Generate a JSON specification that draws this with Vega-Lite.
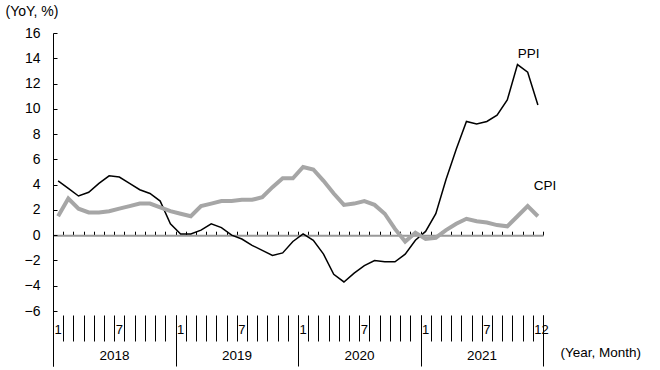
{
  "$schema": "https://vega.github.io/schema/vega-lite/v6.json",
  "width": 490,
  "height": 333,
  "autosize": {"type": "none"},
  "padding": {"left": 53, "top": 33, "right": 117, "bottom": 4},
  "config": {
    "view": {"stroke": null},
    "font": "Liberation Sans",
    "axis": {"grid": false, "labelFont": "Liberation Sans", "titleFont": "Liberation Sans", "labelColor": "black", "titleColor": "black", "titleFontWeight": "normal"}
  },
  "datasets": {
    "series": [
      {"i": 0, "year": 2018, "month": 1, "PPI": 4.3, "CPI": 1.5},
      {"i": 1, "year": 2018, "month": 2, "PPI": 3.7, "CPI": 2.9},
      {"i": 2, "year": 2018, "month": 3, "PPI": 3.1, "CPI": 2.1},
      {"i": 3, "year": 2018, "month": 4, "PPI": 3.4, "CPI": 1.8},
      {"i": 4, "year": 2018, "month": 5, "PPI": 4.1, "CPI": 1.8},
      {"i": 5, "year": 2018, "month": 6, "PPI": 4.7, "CPI": 1.9},
      {"i": 6, "year": 2018, "month": 7, "PPI": 4.6, "CPI": 2.1},
      {"i": 7, "year": 2018, "month": 8, "PPI": 4.1, "CPI": 2.3},
      {"i": 8, "year": 2018, "month": 9, "PPI": 3.6, "CPI": 2.5},
      {"i": 9, "year": 2018, "month": 10, "PPI": 3.3, "CPI": 2.5},
      {"i": 10, "year": 2018, "month": 11, "PPI": 2.7, "CPI": 2.2},
      {"i": 11, "year": 2018, "month": 12, "PPI": 0.9, "CPI": 1.9},
      {"i": 12, "year": 2019, "month": 1, "PPI": 0.1, "CPI": 1.7},
      {"i": 13, "year": 2019, "month": 2, "PPI": 0.1, "CPI": 1.5},
      {"i": 14, "year": 2019, "month": 3, "PPI": 0.4, "CPI": 2.3},
      {"i": 15, "year": 2019, "month": 4, "PPI": 0.9, "CPI": 2.5},
      {"i": 16, "year": 2019, "month": 5, "PPI": 0.6, "CPI": 2.7},
      {"i": 17, "year": 2019, "month": 6, "PPI": 0.0, "CPI": 2.7},
      {"i": 18, "year": 2019, "month": 7, "PPI": -0.3, "CPI": 2.8},
      {"i": 19, "year": 2019, "month": 8, "PPI": -0.8, "CPI": 2.8},
      {"i": 20, "year": 2019, "month": 9, "PPI": -1.2, "CPI": 3.0},
      {"i": 21, "year": 2019, "month": 10, "PPI": -1.6, "CPI": 3.8},
      {"i": 22, "year": 2019, "month": 11, "PPI": -1.4, "CPI": 4.5},
      {"i": 23, "year": 2019, "month": 12, "PPI": -0.5, "CPI": 4.5},
      {"i": 24, "year": 2020, "month": 1, "PPI": 0.1, "CPI": 5.4},
      {"i": 25, "year": 2020, "month": 2, "PPI": -0.4, "CPI": 5.2},
      {"i": 26, "year": 2020, "month": 3, "PPI": -1.5, "CPI": 4.3},
      {"i": 27, "year": 2020, "month": 4, "PPI": -3.1, "CPI": 3.3},
      {"i": 28, "year": 2020, "month": 5, "PPI": -3.7, "CPI": 2.4},
      {"i": 29, "year": 2020, "month": 6, "PPI": -3.0, "CPI": 2.5},
      {"i": 30, "year": 2020, "month": 7, "PPI": -2.4, "CPI": 2.7},
      {"i": 31, "year": 2020, "month": 8, "PPI": -2.0, "CPI": 2.4},
      {"i": 32, "year": 2020, "month": 9, "PPI": -2.1, "CPI": 1.7},
      {"i": 33, "year": 2020, "month": 10, "PPI": -2.1, "CPI": 0.5},
      {"i": 34, "year": 2020, "month": 11, "PPI": -1.5, "CPI": -0.5},
      {"i": 35, "year": 2020, "month": 12, "PPI": -0.4, "CPI": 0.2},
      {"i": 36, "year": 2021, "month": 1, "PPI": 0.3, "CPI": -0.3},
      {"i": 37, "year": 2021, "month": 2, "PPI": 1.7, "CPI": -0.2},
      {"i": 38, "year": 2021, "month": 3, "PPI": 4.4, "CPI": 0.4},
      {"i": 39, "year": 2021, "month": 4, "PPI": 6.8, "CPI": 0.9},
      {"i": 40, "year": 2021, "month": 5, "PPI": 9.0, "CPI": 1.3},
      {"i": 41, "year": 2021, "month": 6, "PPI": 8.8, "CPI": 1.1},
      {"i": 42, "year": 2021, "month": 7, "PPI": 9.0, "CPI": 1.0},
      {"i": 43, "year": 2021, "month": 8, "PPI": 9.5, "CPI": 0.8},
      {"i": 44, "year": 2021, "month": 9, "PPI": 10.7, "CPI": 0.7},
      {"i": 45, "year": 2021, "month": 10, "PPI": 13.5, "CPI": 1.5},
      {"i": 46, "year": 2021, "month": 11, "PPI": 12.9, "CPI": 2.3},
      {"i": 47, "year": 2021, "month": 12, "PPI": 10.3, "CPI": 1.5}
    ],
    "labels": [
      {"label": "PPI", "i": 46.1, "v": 14.3},
      {"label": "CPI", "i": 47.7, "v": 3.9}
    ]
  },
  "layer": [
    {
      "data": {"name": "series"},
      "mark": {"type": "line", "color": "black", "strokeWidth": 1.5},
      "encoding": {
        "x": {
          "field": "i", "type": "quantitative",
          "scale": {"domain": [-0.5, 47.5], "nice": false, "zero": false},
          "axis": {
            "orient": "top", "offset": -202.2,
            "values": [-0.5,0.5,1.5,2.5,3.5,4.5,5.5,6.5,7.5,8.5,9.5,10.5,11.5,12.5,13.5,14.5,15.5,16.5,17.5,18.5,19.5,20.5,21.5,22.5,23.5,24.5,25.5,26.5,27.5,28.5,29.5,30.5,31.5,32.5,33.5,34.5,35.5,36.5,37.5,38.5,39.5,40.5,41.5,42.5,43.5,44.5,45.5,46.5,47.5],
            "labels": false, "title": null,
            "domainColor": "#999999", "domainWidth": 2,
            "tickColor": "black", "tickSize": 4, "tickWidth": 1
          }
        },
        "y": {
          "field": "PPI", "type": "quantitative",
          "scale": {"domain": [-10.35, 16], "nice": false, "zero": false},
          "axis": {
            "values": [-6, -4, -2, 0, 2, 4, 6, 8, 10, 12, 14, 16],
            "domainColor": "black", "tickColor": "black", "tickSize": -4,
            "labelFontSize": 14, "labelPadding": 17,
            "title": "(YoY, %)", "titleAngle": 0, "titleX": -48, "titleY": -22,
            "titleAlign": "left", "titleBaseline": "middle", "titleFontSize": 14
          }
        }
      }
    },
    {
      "data": {"name": "series"},
      "mark": {"type": "line", "color": "#a6a6a6", "strokeWidth": 4},
      "encoding": {
        "x": {
          "field": "i", "type": "quantitative",
          "axis": {
            "orient": "bottom", "offset": -51,
            "values": [-0.5,0.5,1.5,2.5,3.5,4.5,5.5,6.5,7.5,8.5,9.5,10.5,11.5,12.5,13.5,14.5,15.5,16.5,17.5,18.5,19.5,20.5,21.5,22.5,23.5,24.5,25.5,26.5,27.5,28.5,29.5,30.5,31.5,32.5,33.5,34.5,35.5,36.5,37.5,38.5,39.5,40.5,41.5,42.5,43.5,44.5,45.5,46.5,47.5],
            "domain": false, "title": null,
            "tickColor": "black", "tickSize": 26, "tickWidth": 1,
            "labelExpr": "datum.value > 47 ? '' : (round(datum.value + 0.5) == 47 ? '12' : (round(datum.value + 0.5) % 12 == 0 ? '1' : (round(datum.value + 0.5) % 12 == 6 ? '7' : '')))",
            "labelAlign": "left", "labelBaseline": "middle", "labelPadding": -12, "labelOffset": 1,
            "labelOverlap": false, "labelBound": false, "labelFlush": false, "labelFontSize": 13
          }
        },
        "y": {"field": "CPI", "type": "quantitative", "axis": null}
      }
    },
    {
      "data": {"name": "labels"},
      "mark": {"type": "text", "fontSize": 13.5, "color": "black", "font": "Liberation Sans"},
      "encoding": {
        "x": {
          "field": "i", "type": "quantitative",
          "axis": {
            "orient": "bottom", "offset": -51,
            "values": [-0.5, 11.5, 23.5, 35.5, 47.5],
            "domain": false,
            "tickColor": "black", "tickSize": 51, "tickWidth": 1,
            "labelExpr": "datum.value > 47 ? '' : '' + (2018 + round((datum.value + 0.5) / 12))",
            "labelAlign": "center", "labelBaseline": "middle", "labelPadding": -11, "labelOffset": 61,
            "labelOverlap": false, "labelBound": false, "labelFlush": false, "labelFontSize": 13.5,
            "title": "(Year, Month)", "titleX": 507, "titleY": 37, "titleAlign": "left",
            "titleBaseline": "middle", "titleFontSize": 13.5, "titleAnchor": "start"
          }
        },
        "y": {"field": "v", "type": "quantitative", "axis": null},
        "text": {"field": "label"}
      }
    }
  ],
  "resolve": {"axis": {"x": "independent", "y": "independent"}}
}
